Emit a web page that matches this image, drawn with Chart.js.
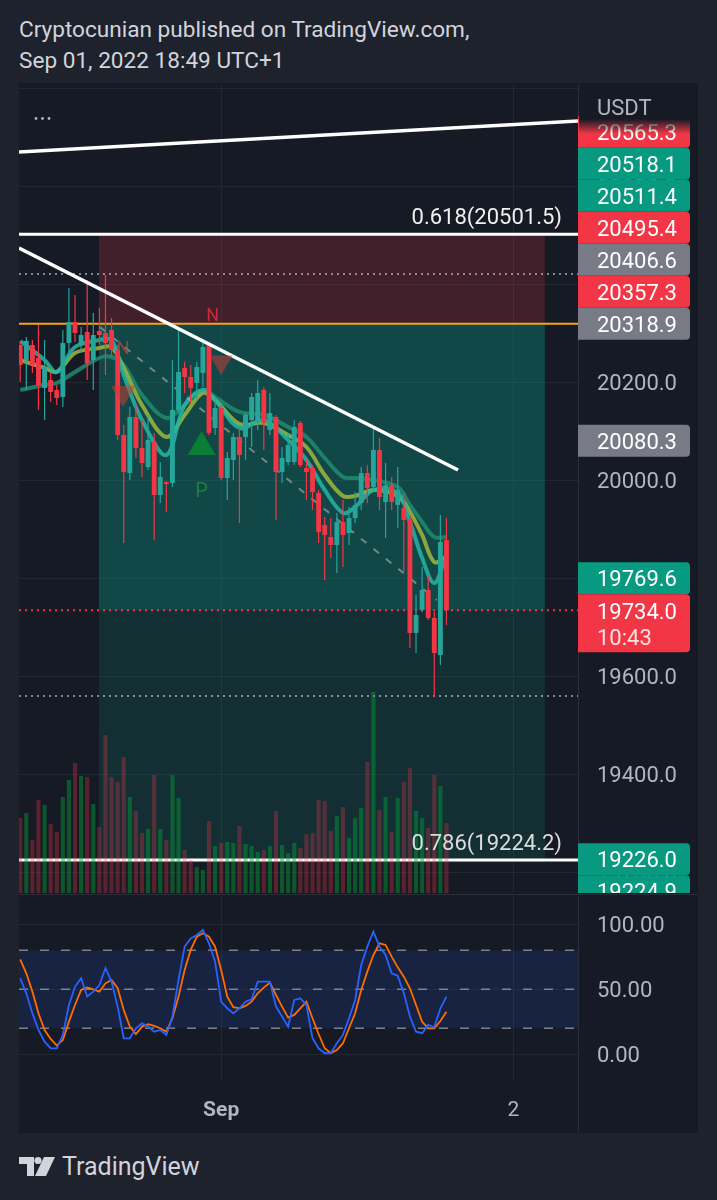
<!DOCTYPE html>
<html><head><meta charset="utf-8">
<script src="https://cdn.jsdelivr.net/npm/chart.js@4.4.0/dist/chart.umd.min.js"></script>
<style>
html,body{margin:0;padding:0;background:#1e222d;width:717px;height:1200px;overflow:hidden;font-family:Roboto,"Noto Sans",sans-serif;}
.hdr{position:absolute;left:19px;color:#d1d4dc;font-size:22.6px;line-height:26px;white-space:nowrap;}
#frame{position:absolute;left:19px;top:83px;width:679px;height:1050px;background:#161a25;}
#sep{position:absolute;left:19px;top:894px;width:679px;height:1px;background:#2a2e39;}
#main{position:absolute;left:19px;top:85px;}
#osc{position:absolute;left:19px;top:896px;}
#logo{position:absolute;left:19px;top:1155px;}
#brand{position:absolute;left:62px;top:1152px;color:#d1d4dc;font-size:25px;line-height:30px;}
</style></head>
<body>
<div class="hdr" style="top:17px">Cryptocunian published on TradingView.com,</div>
<div class="hdr" style="top:48px">Sep 01, 2022 18:49 UTC+1</div>
<div id="frame"></div>
<canvas id="main" width="679" height="808"></canvas>
<div id="sep"></div>
<canvas id="osc" width="679" height="237"></canvas>
<svg id="logo" width="40" height="24" viewBox="0 0 40 24">
  <path d="M0 2 H15 V21 H8 V9 H0 Z" fill="#d1d4dc"/>
  <circle cx="19" cy="5.5" r="3.6" fill="#d1d4dc"/>
  <path d="M25 2 H36 L27 21 H16 Z" fill="#d1d4dc"/>
</svg>
<div id="brand">TradingView</div>
<script>
// ---------- DATA ----------
const candleOpen  = [20275.5,20244.9,20275.5,20249.0,20187.8,20204.1,20183.7,20169.4,20279.6,20322.4,20275.5,20302.0,20244.9,20304.1,20300.0,20306.1,20265.3,20091.8,20014.3,20128.6,20065.3,20026.5,20077.6,19969.4,19995.9,19993.9,20142.9,20228.6,20210.2,20198.0,20218.4,20275.5,20106.1,20146.9,20004.1,20040.8,20087.8,20087.8,20122.4,20116.3,20183.7,20102.0,20128.6,20016.3,20036.7,20036.7,20116.3,20024.5,20024.5,19973.5,19908.2,19883.7,19867.3,19914.3,19891.8,19922.4,19953.1,20014.3,19985.7,20061.2,19955.1,19989.8,19949.0,19942.9,19918.4,19687.8,19734.7,19775.5,19718.4,19642.9,19877.6];
const candleHigh  = [20281.6,20291.8,20285.7,20316.3,20285.7,20218.4,20193.9,20306.1,20391.8,20377.6,20312.2,20408.2,20340.8,20351.0,20418.4,20330.6,20275.5,20112.2,20149.0,20157.1,20122.4,20132.7,20095.9,20036.7,19998.0,20244.9,20312.2,20240.8,20234.7,20240.8,20285.7,20281.6,20169.4,20153.1,20057.1,20095.9,20108.2,20136.7,20177.6,20204.1,20189.8,20177.6,20132.7,20067.3,20095.9,20122.4,20120.3,20040.8,20030.6,19979.6,19924.5,19922.4,19932.7,19959.2,19944.9,19975.5,20026.5,20030.6,20108.2,20085.7,20034.7,20006.1,20026.5,19973.5,19928.6,19765.3,19822.4,19806.1,19730.6,19928.6,19922.4];
const candleLow   = [20200.0,20183.7,20218.4,20142.9,20122.4,20159.2,20153.1,20149.0,20261.2,20281.6,20259.2,20204.1,20183.7,20275.5,20214.3,20251.0,20081.6,19871.4,20000.0,20044.9,20006.1,20020.4,19877.6,19953.1,19934.7,19985.7,20136.7,20177.6,20157.1,20163.3,20189.8,20091.8,20091.8,20000.0,19959.2,20000.0,19912.2,20040.8,20067.3,20102.0,20061.2,20091.8,19918.4,19993.9,20030.6,20030.6,20026.5,19959.2,19938.8,19871.4,19795.9,19840.8,19810.2,19822.4,19867.3,19912.2,19938.8,19953.1,19975.5,19938.8,19881.6,19938.8,19902.0,19812.2,19657.1,19646.9,19730.6,19714.3,19557.1,19622.4,19704.1];
const candleClose = [20234.7,20283.7,20234.7,20193.9,20230.6,20179.6,20167.3,20279.6,20322.4,20300.0,20295.9,20238.8,20295.9,20295.9,20279.6,20265.3,20091.8,20016.3,20128.6,20065.3,20034.7,20081.6,19969.4,20006.1,19991.8,20142.9,20220.4,20210.2,20187.8,20230.6,20271.4,20095.9,20146.9,20004.1,20044.9,20087.8,20051.0,20132.7,20169.4,20177.6,20116.3,20136.7,20016.3,20044.9,20071.4,20108.2,20030.6,20016.3,19975.5,19893.9,19887.8,19867.3,19914.3,19887.8,19922.4,19949.0,20014.3,19983.7,20061.2,19965.3,19989.8,19955.1,19979.6,19918.4,19687.8,19724.5,19775.5,19718.4,19646.9,19873.5,19734.0];
const volume = [1500,1600,1060,1860,1760,1380,1220,1920,2260,2600,2340,2320,1780,1320,3160,2320,2220,2720,1920,1640,1200,1280,2360,1280,1060,2360,1900,860,660,520,460,1440,940,1000,1020,1000,1340,980,940,820,860,940,1640,960,800,1000,900,1180,1200,1860,1840,1240,1540,1720,1100,1500,1700,2620,4020,1660,1920,1220,1900,2220,2500,1640,1500,1300,2360,2140,1400];
const stochK = [58.5,46.9,31.5,18.7,9.7,4.6,4.6,14.9,37.9,52.1,58.5,44.4,48.2,53.3,66.2,55.9,36.7,12.3,12.3,20.0,23.8,21.3,17.4,18.7,14.9,29.0,57.2,82.8,89.2,91.8,95.6,85.4,71.3,40.5,35.4,31.5,35.4,40.5,42.3,55.9,55.9,55.9,36.7,29.0,21.3,41.8,43.1,37.9,12.3,4.6,0.8,0.8,8.5,14.9,27.7,41.8,68.7,82.8,94.4,82.8,76.4,62.3,60.3,46.9,29.0,17.4,16.2,22.6,20.8,35.4,44.4];
const stochD = [73.1,62.3,48.2,31.5,18.7,11.8,6.7,11.0,25.1,37.9,49.5,51.5,50.0,48.2,54.6,57.2,50.8,34.1,21.3,15.6,21.3,23.1,21.8,20.0,17.4,27.7,44.4,64.9,80.3,90.5,93.1,90.5,82.8,64.9,44.4,36.2,35.4,37.2,40.5,46.9,51.3,55.1,45.6,36.7,28.2,30.3,35.4,40.5,27.7,15.6,4.6,0.8,3.3,8.5,20.0,31.5,49.5,63.6,76.4,85.4,84.1,75.1,66.9,59.7,50.8,37.9,25.1,20.0,20.0,25.6,32.8];
const emaIdx  = [0,4,6,9,13,15,17,20,24,27,30,32,36,40,44,47,50,53,55,58,62,64,66,68,70];
const emaFast = [20283.7,20244.9,20220.4,20271.4,20285.7,20285.7,20214.3,20122.4,20051.0,20153.1,20183.7,20163.3,20106.1,20122.4,20081.6,20040.8,19979.6,19932.7,19944.9,19979.6,19973.5,19914.3,19840.8,19789.8,19846.9];
const emaMid  = [20244.9,20228.6,20220.4,20259.2,20269.4,20271.4,20228.6,20153.1,20087.8,20132.7,20177.6,20163.3,20114.3,20116.3,20091.8,20067.3,20010.2,19967.3,19967.3,19979.6,19967.3,19934.7,19887.8,19832.7,19842.9];
const emaSlow = [20183.7,20193.9,20198.0,20220.4,20249.0,20251.0,20234.7,20173.5,20126.5,20153.1,20183.7,20169.4,20138.8,20132.7,20108.2,20087.8,20044.9,20006.1,20004.1,20000.0,19985.7,19949.0,19914.3,19883.7,19883.7];

const xRange = [-0.2, 91.6];
const priceRange = [19157.1, 20806.1];
const volRange = [0, 16160];
const oscRange = [-19.8, 121.8];
const priceTicks = [19200,19400,19600,19800,20000,20200,20400,20600,20800];
const oscTicks = [0,50,100];
const oscLevels = [80,50,20];
const xTickIdx = [33, 81];
const xTickLabels = ['Sep', '2'];

const trendTopX = [-0.2, 91.6], trendTopY = [20669.6, 20732.7];
const trendDownX = [-0.2, 71.9], trendDownY = [20473.5, 20020.4];
const channelX = [13.1, 68.4], channelY = [20312.0, 19755.0];
const fibLevels = [20501.5, 19224.2];
const fibLabels = ['0.618(20501.5)', '0.786(19224.2)'];
const entryLevel = 20318.9;
const lastPrice = 19734.0;
const dottedLevels = [20420.4, 19559.2];
const posLeftIdx = 12.93, posRightIdx = 86.16;
const posStop = 20501.5, posEntry = 20318.9, posTarget = 19220.0;

const markerIdx = [16.9, 33.0, 29.8];
const markerPrice = [20177.6, 20240.8, 20067.3];
const markerDir = ['down', 'down', 'up'];
const letterIdx = [16.9, 31.6, 29.8];
const letterPrice = [20265.3, 20332.7, 19975.5];
const letterText = ['N', 'N', 'P'];

const axisLabelPrices = [20565.3, 20518.1, 20511.4, 20495.4, 20406.6, 20357.3, 20318.9, 20080.3, 19769.6, 19734.0, 19226.0, 19224.9];
const axisLabelKinds  = ['red','green','green','red','gray','red','gray','gray','green','red','green','green'];
const axisPinned = [20318.9, 20080.3, 19734.0, 19226.0];
const countdown = '10:43';

// ---------- RENDER ----------
Chart.defaults.font.family = "Roboto, 'Noto Sans', sans-serif";
const UP = '#26a69a', DOWN = '#f23645';
const BG = '#161a25', GRID = '#232733', AXIS_TXT = '#b2b5be';
const TXT_DY = 2.5; // optical centring of middle-baseline text
const candleIdx = candleOpen.map((_, i) => i);
const upFlags = candleIdx.map(i => candleClose[i] >= candleOpen[i]);
const seg = (xs, ys) => xs.map((x, k) => ({x, y: ys[k]}));
const hline = v => [{x: xRange[0], y: v}, {x: xRange[1], y: v}];
const kindColor = {red: '#f23645', green: '#089981', gray: '#787b86'};

const bgPlugin = {id: 'bg', beforeDraw(c) { const x = c.ctx; x.save(); x.fillStyle = BG; x.fillRect(0, 0, c.width, c.height); x.restore(); }};

function drawGrid(c, yTicks) {
  const ctx = c.ctx, xs = c.scales.x, ys = c.scales.y, ca = c.chartArea;
  ctx.save();
  ctx.fillStyle = GRID;
  yTicks.forEach(v => { const y = Math.round(ys.getPixelForValue(v)); ctx.fillRect(ca.left, y, ca.right - ca.left, 1); });
  xTickIdx.forEach(v => { const x = Math.round(xs.getPixelForValue(v)); ctx.fillRect(x, ca.top, 1, ca.bottom - ca.top); });
  ctx.fillStyle = '#2a2e39';
  ctx.fillRect(Math.round(ca.right), 0, 1, c.height);
  ctx.restore();
}

const zonePlugin = {id: 'zones', beforeDatasetsDraw(c) {
  drawGrid(c, priceTicks);
  const ctx = c.ctx, xs = c.scales.x, ys = c.scales.y;
  const l = xs.getPixelForValue(posLeftIdx), r = xs.getPixelForValue(posRightIdx);
  const yS = ys.getPixelForValue(posStop), yE = ys.getPixelForValue(posEntry);
  const yC = ys.getPixelForValue(lastPrice), yT = ys.getPixelForValue(posTarget);
  ctx.save();
  ctx.fillStyle = 'rgba(242,54,69,0.2)'; ctx.fillRect(l, yS, r - l, yE - yS);
  ctx.fillStyle = 'rgba(8,153,129,0.36)'; ctx.fillRect(l, yE, r - l, yC - yE);
  ctx.fillStyle = 'rgba(8,153,129,0.17)'; ctx.fillRect(l, yC, r - l, yT - yC);
  ctx.restore();
}};

const overlayPlugin = {id: 'overlay', afterDraw(c) {
  const ctx = c.ctx, xs = c.scales.x, ys = c.scales.y, ca = c.chartArea;
  ctx.save();
  ctx.font = '22px Roboto'; ctx.textAlign = 'right'; ctx.textBaseline = 'middle';
  fibLevels.forEach((lv, k) => {
    ctx.fillStyle = k === 0 ? '#f0f0f0' : '#dcdcdc';
    ctx.fillText(fibLabels[k], ca.right - 16, ys.getPixelForValue(lv) - 18 + TXT_DY);
  });
  ctx.textAlign = 'center';
  const letterColors = ['rgba(190,70,60,0.75)', '#cc2a3c', '#1f7f3e'];
  letterText.forEach((t, k) => {
    ctx.font = (t === 'P' ? '20px' : '18px') + ' Roboto';
    ctx.fillStyle = letterColors[k];
    ctx.fillText(t, xs.getPixelForValue(letterIdx[k]), ys.getPixelForValue(letterPrice[k]));
  });
  ctx.fillStyle = '#b2b5be';
  [17, 23.5, 30].forEach(x => { ctx.beginPath(); ctx.arc(x, 33.5, 1.4, 0, Math.PI * 2); ctx.fill(); });
  ctx.font = '22px Roboto'; ctx.textAlign = 'left'; ctx.textBaseline = 'middle'; ctx.fillStyle = AXIS_TXT;
  priceTicks.filter(v => v < 20800).forEach(v => ctx.fillText(v.toFixed(1), ca.right + 19, ys.getPixelForValue(v) + TXT_DY));
  const items = axisLabelPrices.map((p, k) => {
    const y = ys.getPixelForValue(p);
    const h = p === lastPrice ? 58 : 32;
    return {p, kind: axisLabelKinds[k], h, top: p === lastPrice ? y - 16 : y - h / 2, pinned: axisPinned.includes(p)};
  });
  const lowestPin = Math.min(...axisPinned);
  let ceil = Infinity, floor = -Infinity;
  items.filter(it => it.p >= lowestPin).sort((a, b) => a.p - b.p).forEach(it => {
    if (!it.pinned && it.top + it.h > ceil) it.top = ceil - it.h;
    ceil = it.top;
    if (it.p === lowestPin) floor = it.top + it.h;
  });
  items.filter(it => it.p < lowestPin).sort((a, b) => b.p - a.p).forEach(it => {
    if (it.top < floor) it.top = floor;
    floor = it.top + it.h;
  });
  const bx = ca.right, bw = 112;
  items.forEach(it => {
    ctx.fillStyle = kindColor[it.kind];
    ctx.beginPath(); ctx.roundRect(bx, it.top, bw, it.h, [0, 4, 4, 0]); ctx.fill();
    ctx.fillStyle = '#ffffff'; ctx.font = '22px Roboto'; ctx.textAlign = 'left'; ctx.textBaseline = 'middle';
    if (it.p === lastPrice) {
      ctx.fillText(it.p.toFixed(1), bx + 19, it.top + 17 + TXT_DY);
      ctx.fillStyle = 'rgba(255,255,255,0.85)';
      ctx.fillText(countdown, bx + 19, it.top + 43 + TXT_DY);
    } else {
      ctx.fillText(it.p.toFixed(1), bx + 19, it.top + it.h / 2 + TXT_DY);
    }
  });
  ctx.fillStyle = BG; ctx.fillRect(bx + 1, 0, c.width - bx, 34);
  const g = ctx.createLinearGradient(0, 34, 0, 49);
  g.addColorStop(0, 'rgba(22,26,37,1)'); g.addColorStop(1, 'rgba(22,26,37,0)');
  ctx.fillStyle = g; ctx.fillRect(bx + 1, 34, c.width - bx, 15);
  ctx.fillStyle = AXIS_TXT; ctx.font = '22px Roboto'; ctx.textAlign = 'left'; ctx.textBaseline = 'middle';
  ctx.fillText('USDT', bx + 19, 22 + TXT_DY);
  ctx.restore();
}};

const lineDs = (data, color, width, order, extra) => Object.assign({type: 'line', data, borderColor: color, borderWidth: width, pointRadius: 0, fill: false, order}, extra || {});

new Chart(document.getElementById('main'), {
  type: 'bar',
  data: {datasets: [
    {type: 'line', data: seg(markerIdx, markerPrice), showLine: false, pointStyle: 'triangle',
     pointRotation: markerDir.map(d => d === 'down' ? 180 : 0), pointRadius: [14, 13, 16], pointBorderWidth: 0,
     pointBackgroundColor: ['rgba(200,60,55,0.55)', 'rgba(200,60,55,0.55)', 'rgba(10,140,50,0.8)'], order: 1},
    lineDs(seg(trendTopX, trendTopY), '#ffffff', 3.5, 2),
    lineDs(seg(trendDownX, trendDownY), '#ffffff', 3.5, 2),
    lineDs(hline(fibLevels[0]), '#ffffff', 3, 2),
    {type: 'bar', data: candleIdx.map(i => ({x: i, y: [candleOpen[i], candleClose[i]]})),
     backgroundColor: upFlags.map(u => u ? UP : DOWN), grouped: false, categoryPercentage: 1, barPercentage: 0.8, maxBarThickness: 5, minBarLength: 1, order: 10},
    {type: 'bar', data: candleIdx.map(i => ({x: i, y: [candleLow[i], candleHigh[i]]})),
     backgroundColor: upFlags.map(u => u ? UP : DOWN), grouped: false, categoryPercentage: 1, barPercentage: 0.2, maxBarThickness: 1.2, order: 11},
    lineDs(seg(channelX, channelY), 'rgba(175,178,188,0.6)', 2, 12, {borderDash: [7, 9]}),
    lineDs(seg(emaIdx, emaFast), 'rgba(38,182,164,0.85)', 4, 13, {tension: 0.35}),
    lineDs(seg(emaIdx, emaMid), 'rgba(160,185,60,0.85)', 4, 14, {tension: 0.35}),
    lineDs(seg(emaIdx, emaSlow), 'rgba(30,140,110,0.85)', 4, 15, {tension: 0.35}),
    lineDs(hline(entryLevel), '#f7a21b', 2, 20),
    lineDs(hline(lastPrice), '#f23645', 2, 20, {borderDash: [2, 4]}),
    {type: 'bar', data: candleIdx.map(i => ({x: i, y: volume[i]})), yAxisID: 'yVol',
     backgroundColor: upFlags.map(u => u ? 'rgba(0,160,50,0.45)' : 'rgba(242,54,69,0.3)'), grouped: false, categoryPercentage: 1, barPercentage: 0.68, maxBarThickness: 4.2, order: 30},
    lineDs(hline(fibLevels[1]), '#ffffff', 3, 40),
    lineDs(hline(dottedLevels[0]), 'rgba(178,181,190,0.7)', 2, 40, {borderDash: [2, 4]}),
    lineDs(hline(dottedLevels[1]), 'rgba(178,181,190,0.7)', 2, 40, {borderDash: [2, 4]}),
  ]},
  options: {
    responsive: false, animation: false, events: [],
    layout: {autoPadding: false, padding: {left: 0, top: 0, bottom: 0, right: 120}},
    plugins: {legend: {display: false}, tooltip: {enabled: false}},
    scales: {
      x: {type: 'linear', display: false, offset: false, grid: {offset: false}, min: xRange[0], max: xRange[1]},
      y: {type: 'linear', display: false, min: priceRange[0], max: priceRange[1]},
      yVol: {type: 'linear', display: false, min: volRange[0], max: volRange[1]}
    }
  },
  plugins: [bgPlugin, zonePlugin, overlayPlugin]
});

const oscPlugin = {id: 'oscDeco',
  beforeDatasetsDraw(c) {
    drawGrid(c, oscTicks);
    const ctx = c.ctx, ys = c.scales.y, ca = c.chartArea;
    const a = ys.getPixelForValue(oscLevels[0]), b = ys.getPixelForValue(oscLevels[2]);
    ctx.save(); ctx.fillStyle = 'rgba(41,98,255,0.13)'; ctx.fillRect(ca.left, a, ca.right - ca.left, b - a); ctx.restore();
  },
  afterDraw(c) {
    const ctx = c.ctx, xs = c.scales.x, ys = c.scales.y, ca = c.chartArea;
    ctx.save();
    ctx.fillStyle = AXIS_TXT; ctx.textBaseline = 'middle';
    ctx.font = '22px Roboto'; ctx.textAlign = 'left';
    oscTicks.forEach(v => ctx.fillText(v.toFixed(2), ca.right + 19, ys.getPixelForValue(v) + TXT_DY));
    ctx.textAlign = 'center';
    xTickIdx.forEach((v, k) => {
      ctx.font = (k === 0 ? 'bold 21px' : '21px') + ' Roboto';
      ctx.fillText(xTickLabels[k], xs.getPixelForValue(v), ca.bottom + 28 + TXT_DY);
    });
    ctx.restore();
  }
};

new Chart(document.getElementById('osc'), {
  type: 'line',
  data: {datasets: [
    lineDs(candleIdx.map(i => ({x: i, y: stochK[i]})), '#2962ff', 1.8, 1),
    lineDs(candleIdx.map(i => ({x: i, y: stochD[i]})), '#ff6d00', 1.8, 2),
    ...oscLevels.map(lv => lineDs(hline(lv), 'rgba(149,152,161,0.8)', 1.5, 5, {borderDash: [9, 12]}))
  ]},
  options: {
    responsive: false, animation: false, events: [],
    layout: {autoPadding: false, padding: {left: 0, top: 0, bottom: 53, right: 120}},
    plugins: {legend: {display: false}, tooltip: {enabled: false}},
    scales: {
      x: {type: 'linear', display: false, offset: false, min: xRange[0], max: xRange[1]},
      y: {type: 'linear', display: false, min: oscRange[0], max: oscRange[1]}
    }
  },
  plugins: [bgPlugin, oscPlugin]
});
</script>
</body></html>
